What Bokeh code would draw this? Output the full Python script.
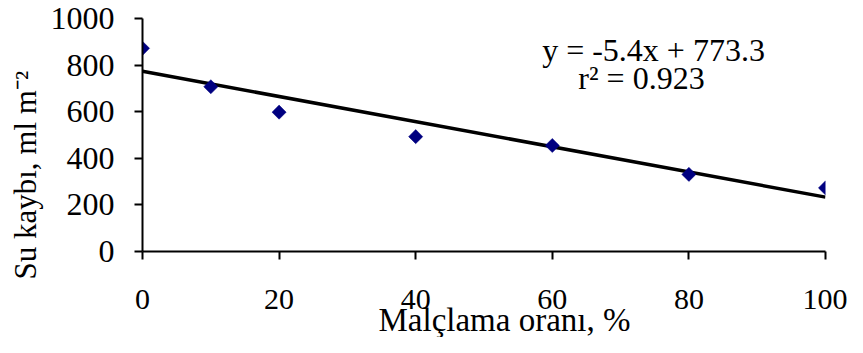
import math
from bokeh.plotting import figure
from bokeh.models import Range1d, FixedTicker, Label, Title
from bokeh.embed import file_html
from bokeh.resources import INLINE

# Data
mulch_rate = [0, 10, 20, 40, 60, 80, 100]
water_loss = [872, 707, 598, 493, 455, 331, 273]
slope = -5.4
intercept = 773.3
r2 = 0.923
x_ticks = [0, 20, 40, 60, 80, 100]
y_ticks = [0, 200, 400, 600, 800, 1000]

FONT = "Liberation Serif"

p = figure(width=847, height=337, output_backend="svg", toolbar_location=None,
           x_range=Range1d(0, 100), y_range=Range1d(0, 1000),
           min_border_left=142, min_border_right=22, min_border_top=18, min_border_bottom=86)
p.outline_line_color = None
p.xgrid.visible = False
p.ygrid.visible = False
p.background_fill_color = "white"

for ax, ticks in ((p.xaxis, x_ticks), (p.yaxis, y_ticks)):
    ax.ticker = FixedTicker(ticks=ticks)
    ax.axis_line_color = "black"
    ax.axis_line_width = 2
    ax.major_tick_line_color = "black"
    ax.major_tick_line_width = 2
    ax.major_tick_out = 8
    ax.major_tick_in = 0
    ax.minor_tick_line_color = None
    ax.major_label_text_font = FONT
    ax.major_label_text_color = "black"

p.xaxis.major_label_text_font_size = "30px"
p.yaxis.major_label_text_font_size = "32px"
p.xaxis.major_label_standoff = 30
p.yaxis.major_label_standoff = 20

p.add_layout(Title(text="Malçlama oranı, %", align="left", offset=236, standoff=-20,
                   vertical_align="top",
                   text_font=FONT, text_font_size="33px", text_font_style="normal",
                   text_color="black"), "below")

p.add_layout(Title(text="Su kaybı, ml m⁻²", align="left", offset=-28, standoff=9,
                   text_font=FONT, text_font_size="31px", text_font_style="normal",
                   text_color="black"), "left")

# Trend line
fit_x = [min(mulch_rate), max(mulch_rate)]
fit_y = [slope * v + intercept for v in fit_x]
p.line(fit_x, fit_y, line_color="black", line_width=3.5)

# Points
p.scatter(mulch_rate, water_loss, marker="square", size=10, angle=math.pi / 4,
          fill_color="#000080", line_color="#000080", line_width=0.5)

# Equation
p.add_layout(Label(x=511, y=202, x_units="screen", y_units="screen",
                   text=f"y = {slope}x + {intercept}",
                   text_align="center", text_baseline="alphabetic",
                   text_font=FONT, text_font_size="32px", text_color="black"))
p.add_layout(Label(x=499, y=174, x_units="screen", y_units="screen",
                   text=f"r² = {r2}",
                   text_align="center", text_baseline="alphabetic",
                   text_font=FONT, text_font_size="32px", text_color="black"))

open("out.html", "w").write(file_html(p, INLINE))
